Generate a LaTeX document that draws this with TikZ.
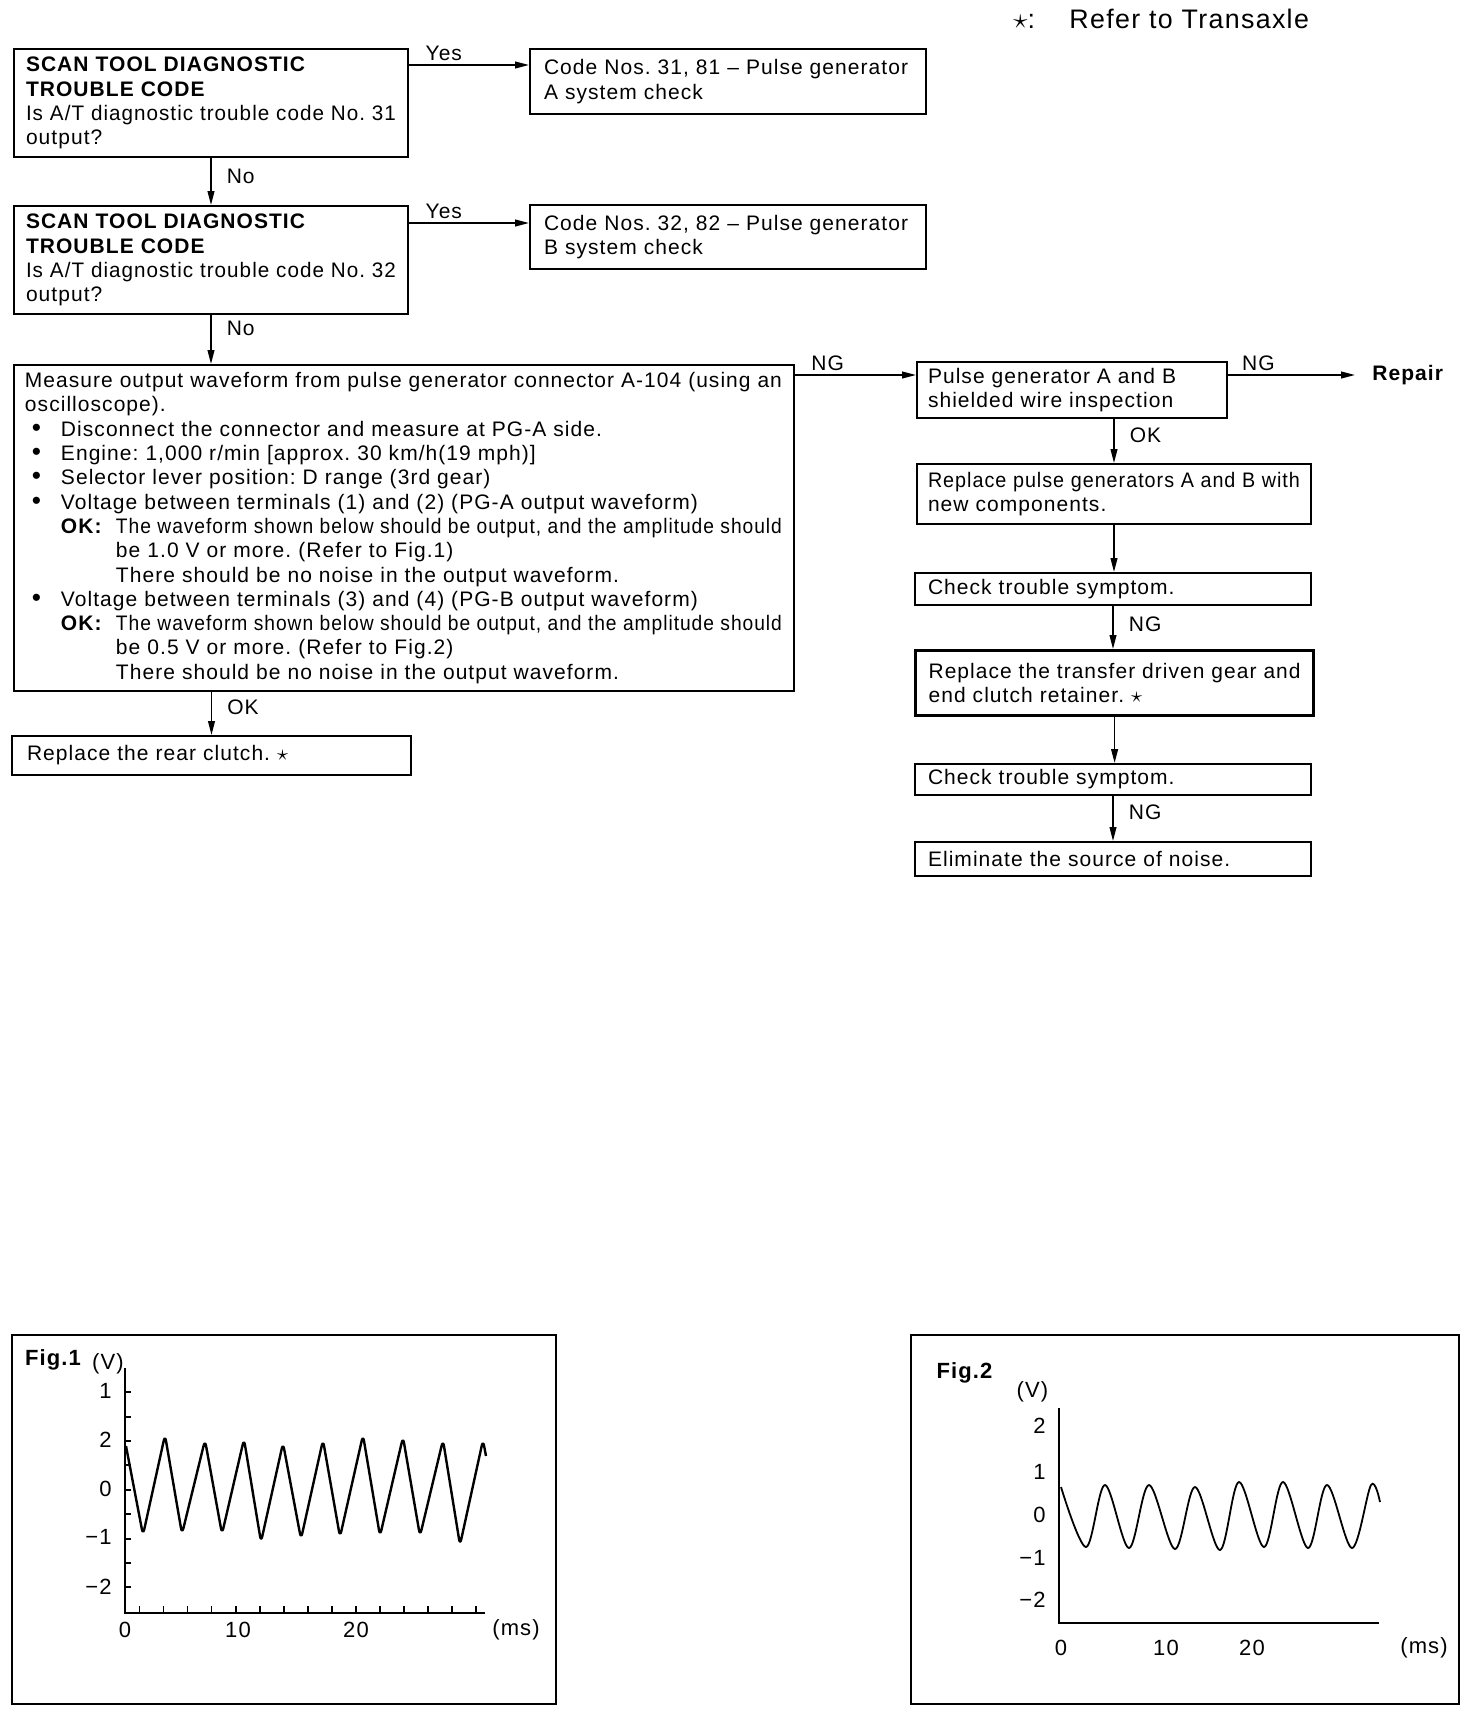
\documentclass[tikz,border=0pt]{standalone}
\usepackage{fontspec}
\usepackage{graphicx}
\setmainfont{Liberation Sans}[LetterSpace=5]
\usetikzlibrary{arrows.meta}
\newcommand{\fitw}[2]{\sbox0{#2}\ifdim\wd0>#1\relax\resizebox{#1}{\ht0}{\usebox0}\else\makebox[#1][s]{#2}\fi}
\newcommand{\bul}{\makebox[18pt][l]{\hspace{3.5pt}\scalebox{1.25}{\textbullet}}}
\newcommand{\okk}{\hspace*{18pt}\makebox[27.5pt][l]{\textbf{OK:}}}
\newcommand{\cont}{\hspace*{45.5pt}}
\tikzset{
  box/.style={draw, line width=1pt, anchor=north west, inner ysep=0pt, align=left,
    font=\fontsize{10.5}{12.15}\selectfont\frenchspacing},
  arr/.style={line width=0.8pt, -{Triangle[length=7pt,width=3.4pt]}},
  lbl/.style={font=\fontsize{10.5}{12}\selectfont, inner sep=0.5pt},
  figt/.style={font=\fontsize{11}{12}\selectfont, inner sep=0pt},
  frame/.style={draw, line width=1pt, anchor=north west, inner sep=0pt},
}
\begin{document}
\begin{tikzpicture}[x=0.5pt,y=-0.5pt]
\fill[white] (0,0) rectangle (1472,1714);

% title note
\node[anchor=west, inner sep=0pt, font=\fontsize{13.4}{14}\selectfont] (note) at (1013,19)
  {\makebox[28pt][l]{$\star$:}Refer to Transaxle};

% left column
\node[box, text width=185pt, inner xsep=6pt, minimum height=54pt] (q1) at (13,48)
  {\textbf{SCAN TOOL DIAGNOSTIC}\\\textbf{TROUBLE CODE}\\\fitw{185pt}{Is A/T diagnostic trouble code No. 31}\\output?};
\node[box, text width=184pt, inner xsep=7pt, minimum height=32.5pt] (c31) at (529,48)
  {\fitw{184pt}{Code Nos. 31, 81 – Pulse generator}\\A system check};
\node[box, text width=185pt, inner xsep=6pt, minimum height=54pt] (q2) at (13,205)
  {\textbf{SCAN TOOL DIAGNOSTIC}\\\textbf{TROUBLE CODE}\\\fitw{185pt}{Is A/T diagnostic trouble code No. 32}\\output?};
\node[box, text width=184pt, inner xsep=7pt, minimum height=32pt] (c32) at (529,204)
  {\fitw{184pt}{Code Nos. 32, 82 – Pulse generator}\\B system check};
\node[box, text width=379pt, inner xsep=5.5pt, minimum height=163pt] (meas) at (13,364)
  {\fitw{378.5pt}{Measure output waveform from pulse generator connector A-104 (using an}\\
   oscilloscope).\\
   \bul Disconnect the connector and measure at PG-A side.\\
   \bul Engine: 1,000 r/min [approx. 30 km/h(19 mph)]\\
   \bul Selector lever position: D range (3rd gear)\\
   \bul Voltage between terminals (1) and (2) (PG-A output waveform)\\
   \okk\fitw{333pt}{The waveform shown below should be output, and the amplitude should}\\
   \cont be 1.0 V or more. (Refer to Fig.1)\\
   \cont There should be no noise in the output waveform.\\
   \bul Voltage between terminals (3) and (4) (PG-B output waveform)\\
   \okk\fitw{333pt}{The waveform shown below should be output, and the amplitude should}\\
   \cont be 0.5 V or more. (Refer to Fig.2)\\
   \cont There should be no noise in the output waveform.};
\node[box, text width=184.5pt, inner xsep=7.5pt, minimum height=19.5pt] (rear) at (11,735)
  {Replace the rear clutch. $\star$};

% right column
\node[box, text width=144pt, inner xsep=5.5pt, minimum height=28pt] (pg) at (916,361)
  {\fitw{144pt}{Pulse generator A and B}\\shielded wire inspection};
\node[anchor=west, inner xsep=8.5pt, inner ysep=1pt, font=\fontsize{10.5}{12}\selectfont\bfseries] (repair) at (1355,375) {Repair};
\node[box, text width=186pt, inner xsep=5.5pt, minimum height=30pt] (rp) at (916,463)
  {\fitw{186pt}{Replace pulse generators A and B with}\\new components.};
\node[box, text width=185pt, inner xsep=6.5pt, minimum height=16pt] (ck1) at (914,572)
  {Check trouble symptom.};
\node[box, line width=1.6pt, text width=186pt, inner xsep=6.5pt, minimum height=32.5pt] (rt) at (914,649)
  {\fitw{186pt}{Replace the transfer driven gear and}\\end clutch retainer. $\star$};
\node[box, text width=185pt, inner xsep=6.5pt, minimum height=15.5pt] (ck2) at (914,763)
  {Check trouble symptom.};
\node[box, text width=185pt, inner xsep=6.5pt, minimum height=17pt] (elim) at (914,841)
  {Eliminate the source of noise.};

% connectors
\draw[arr] ([yshift=-8.5pt]q1.north east) -- ([yshift=-8.5pt]c31.north west)
  node[lbl, above=1.5pt, pos=0.29] (y1) {Yes};
\draw[arr] ([yshift=-9pt]q2.north east) -- ([yshift=-9.5pt]c32.north west)
  node[lbl, above=1.5pt, pos=0.29] (y2) {Yes};
\draw[arr] (q1.south) -- (q2.north) node[lbl, right=7pt, pos=0.39] (n1) {No};
\draw[arr] (q2.south) -- (q2.south |- meas.north) node[lbl, right=7pt, pos=0.27] (n2) {No};
\draw[arr] (meas.south -| rear.north) -- (rear.north) node[lbl, right=7pt, pos=0.36] (o1) {OK};
\draw[arr] ([yshift=-5.5pt]meas.north east) -- ([yshift=-7pt]pg.north west)
  node[lbl, above=1.5pt, pos=0.27] (g1) {NG};
\draw[arr] ([yshift=-7pt]pg.north east) -- (repair.west)
  node[lbl, above=1.5pt, pos=0.24] (g2) {NG};
\draw[arr] (pg.south -| rp.north) -- (rp.north) node[lbl, right=7pt, pos=0.37] (o2) {OK};
\draw[arr] (rp.south) -- (rp.south |- ck1.north);
\draw[arr] (ck1.south) -- (ck1.south |- rt.north) node[lbl, right=7pt, pos=0.42] (g3) {NG};
\draw[arr] (rt.south) -- (rt.south |- ck2.north);
\draw[arr] (ck2.south) -- (ck2.south |- elim.north) node[lbl, right=7pt, pos=0.36] (g4) {NG};

% Fig.1
\node[frame, minimum width=272pt, minimum height=184.5pt] (fig1) at (11,1334) {};
\node[figt, font=\fontsize{11}{12}\selectfont\bfseries] (f1t) at (53,1360) {Fig.1};
\node[figt] (f1v) at (108,1364) {(V)};
\foreach \lab/\yy [count=\i] in {1/1391,2/1440,0/1489,−1/1537,−2/1587}
  \node[figt, anchor=east] (f1y\i) at (112,\yy) {\lab};
\foreach \lab/\xx [count=\i] in {0/125,10/238,20/356}
  \node[figt] (f1x\i) at (\xx,1630) {\lab};
\node[figt] (f1ms) at (516,1630) {(ms)};
\draw[line width=1pt] (125,1368) -- (125,1613) -- (485,1613);
\foreach \t in {1392,1417,1441,1465,1490,1514,1539,1563,1587}
  \draw[line width=0.8pt] (125,\t) -- (131,\t);
\foreach \k in {0,...,14}
  \draw[line width=0.8pt] ({139.5+24.05*\k},1613) -- ++(0,-7);
\draw[line width=1.2pt, rounded corners=3pt, line join=round]
  (126,1446) -- (143,1535) -- (165,1435) -- (182,1534) -- (205,1440) -- (222,1534)
  -- (244,1439) -- (261,1542) -- (283,1443) -- (301,1539) -- (323,1440) -- (340,1537)
  -- (363,1435) -- (380,1536) -- (403,1437) -- (420,1536) -- (443,1440) -- (460,1545)
  -- (483,1440) -- (486,1456);

% Fig.2
\node[frame, minimum width=274pt, minimum height=184.5pt] (fig2) at (910,1334) {};
\node[figt, font=\fontsize{11}{12}\selectfont\bfseries] (f2t) at (964.5,1373) {Fig.2};
\node[figt] (f2v) at (1032.5,1392) {(V)};
\foreach \lab/\yy [count=\i] in {2/1426,1/1472,0/1515,−1/1558,−2/1600}
  \node[figt, anchor=east] (f2y\i) at (1046,\yy) {\lab};
\foreach \lab/\xx [count=\i] in {0/1061,10/1166,20/1252}
  \node[figt] (f2x\i) at (\xx,1648) {\lab};
\node[figt] (f2ms) at (1424,1648) {(ms)};
\draw[line width=1pt] (1059,1408) -- (1059,1623) -- (1379,1623);
\draw[line width=0.9pt] plot[smooth, tension=0.55] coordinates {
  (1061,1487) (1086,1547) (1105,1485) (1129,1548) (1149,1485) (1175,1549) (1195,1487)
  (1220,1550) (1239,1482) (1264,1547) (1283,1482) (1308,1548) (1327,1485) (1352,1548)
  (1371,1485) (1380,1502)};
\end{tikzpicture}
\end{document}
